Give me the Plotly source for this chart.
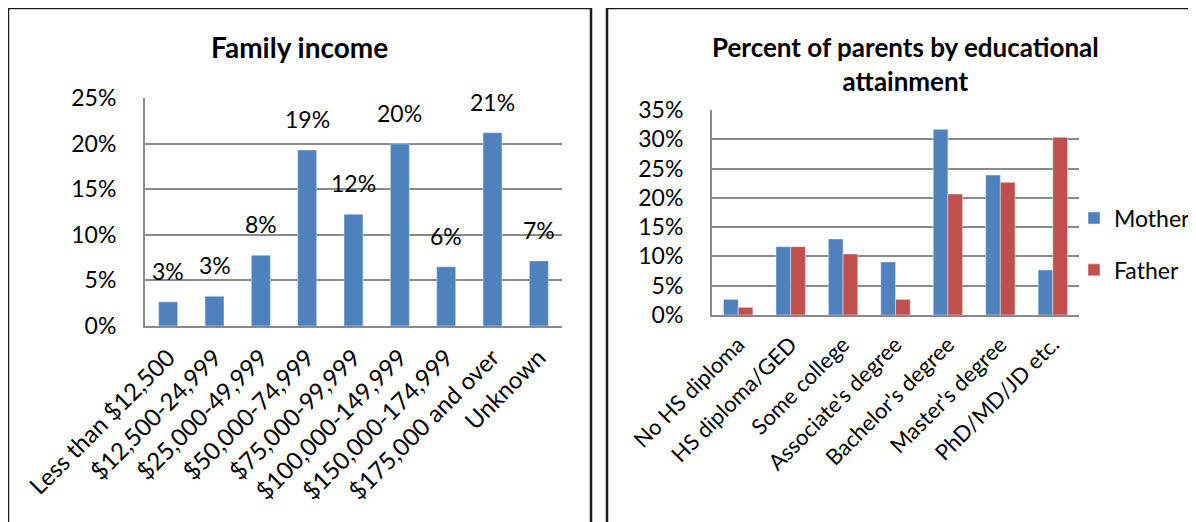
import plotly.graph_objects as go

# page body has an 8px margin; the figure fills the rest of the 1196x522 window
OFF = 8
W, H = 1196 - OFF, 522 - OFF

income_categories = ["Less than $12,500", "$12,500-24,999", "$25,000-49,999",
                     "$50,000-74,999", "$75,000-99,999", "$100,000-149,999",
                     "$150,000-174,999", "$175,000 and over", "Unknown"]
income_values = [2.65, 3.26, 7.76, 19.3, 12.25, 19.97, 6.49, 21.2, 7.14]

edu_categories = ["No HS diploma", "HS diploma/GED", "Some college",
                  "Associate's degree", "Bachelor's degree", "Master's degree",
                  "PhD/MD/JD etc."]
mother_values = [2.67, 11.67, 12.98, 9.05, 31.7, 23.9, 7.68]
father_values = [1.31, 11.67, 10.42, 2.67, 20.66, 22.65, 30.34]

income_ticks = [0, 5, 10, 15, 20, 25]
edu_ticks = [0, 5, 10, 15, 20, 25, 30, 35]

BLUE = "#4F81BD"
RED = "#C0504D"
GRID = "#8a8a8a"
FONT = "Lato"

def px_x(p):
    return (p - OFF) / W

def px_y(p):
    return 1 - (p - OFF) / H

fig = go.Figure()

fig.add_trace(go.Bar(x=income_categories, y=income_values, marker_color=BLUE,
                     width=0.41, xaxis="x", yaxis="y", showlegend=False,
                     hoverinfo="x+y"))
fig.add_trace(go.Bar(x=edu_categories, y=mother_values, name="Mother",
                     marker_color=BLUE, xaxis="x2", yaxis="y2",
                     legendgroup="m"))
fig.add_trace(go.Bar(x=edu_categories, y=father_values, name="Father",
                     marker_color=RED, xaxis="x2", yaxis="y2",
                     legendgroup="f"))

annotations = []
for c, v in zip(income_categories, income_values):
    annotations.append(dict(x=c, y=v, xref="x", yref="y", text=f"{round(v)}%",
                            showarrow=False, yanchor="bottom", yshift=15,
                            font=dict(family=FONT, size=23, color="black")))

annotations.append(dict(x=px_x(299), y=px_y(47), xref="paper", yref="paper",
                        text="<b>Family income</b>", showarrow=False,
                        xanchor="center", yanchor="middle",
                        font=dict(family=FONT, size=28, color="black")))
annotations.append(dict(x=px_x(906), y=px_y(64), xref="paper", yref="paper",
                        text="<b>Percent of parents by educational<br>attainment</b>",
                        showarrow=False, xanchor="center", yanchor="middle",
                        font=dict(family=FONT, size=26, color="black")))

shapes = [
    dict(type="rect", xref="paper", yref="paper", x0=px_x(8), x1=px_x(591),
         y0=px_y(540), y1=px_y(8), line=dict(color="#1a1a1a", width=2.5)),
    dict(type="rect", xref="paper", yref="paper", x0=px_x(607), x1=px_x(1220),
         y0=px_y(540), y1=px_y(8), line=dict(color="#1a1a1a", width=2.5)),
]

axis_common = dict(showgrid=False, showline=True, linecolor=GRID, linewidth=2,
                   tickangle=-45, ticks="", fixedrange=True, automargin=False,
                   ticklabelstandoff=6)
yaxis_common = dict(showgrid=True, gridcolor=GRID, gridwidth=2, showline=True,
                    linecolor=GRID, linewidth=2, ticks="",
                    tickfont=dict(family=FONT, size=23, color="black"),
                    zeroline=False, ticklabelstandoff=22, fixedrange=True,
                    automargin=False)

fig.update_layout(
    width=W, height=H, autosize=False,
    margin=dict(l=0, r=0, t=0, b=0, autoexpand=False),
    paper_bgcolor="white", plot_bgcolor="white",
    font=dict(family=FONT, size=22, color="black"),
    barmode="group", bargap=0.44, bargroupgap=0,
    xaxis=dict(domain=[px_x(145), px_x(562)], anchor="y",
               range=[-0.5, 8.5],
               tickfont=dict(family=FONT, size=24, color="black"), **axis_common),
    yaxis=dict(domain=[px_y(326), px_y(98)], anchor="x", range=[0, 25],
               tickvals=income_ticks, ticktext=[f"{t}%" for t in income_ticks],
               **yaxis_common),
    xaxis2=dict(domain=[px_x(712), px_x(1079)], anchor="y2",
                range=[-0.5, 6.5],
                tickfont=dict(family=FONT, size=22, color="black"), **axis_common),
    yaxis2=dict(domain=[px_y(315), px_y(110)], anchor="x2", range=[0, 35],
                tickvals=edu_ticks, ticktext=[f"{t}%" for t in edu_ticks],
                **yaxis_common),
    legend=dict(x=px_x(1074), y=px_y(244), xanchor="left", yanchor="middle",
                font=dict(family=FONT, size=23, color="black"),
                tracegroupgap=19, bgcolor="rgba(0,0,0,0)"),
    annotations=annotations,
    shapes=shapes,
)

fig.write_html("out.html")
